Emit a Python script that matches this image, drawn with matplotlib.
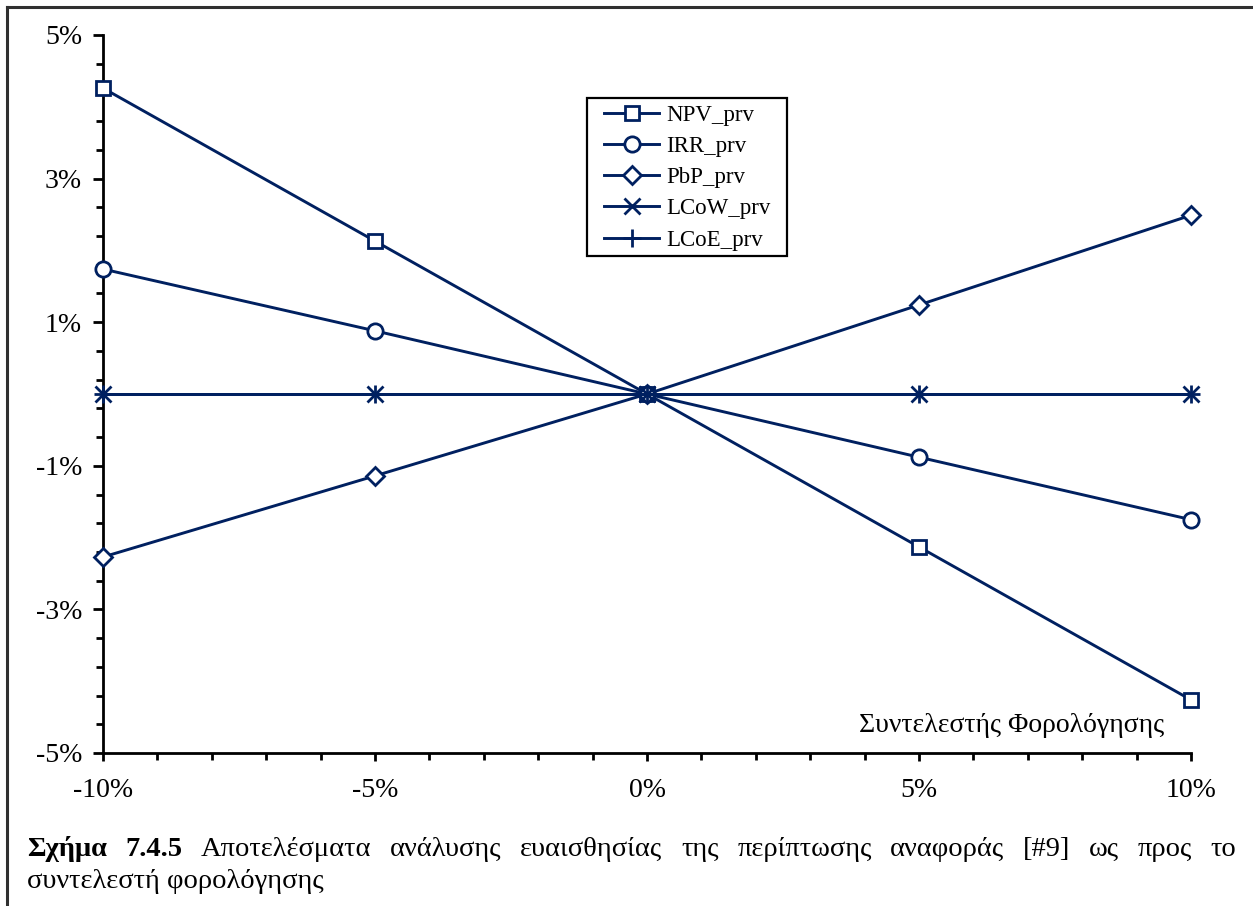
import matplotlib
matplotlib.use("Agg")
import matplotlib.pyplot as plt
from matplotlib.lines import Line2D
from matplotlib.patches import Rectangle
from matplotlib.ticker import FixedLocator, FuncFormatter
import numpy as np

# Sensitivity of the reference case [#9] to the tax rate
tax_change = [-10, -5, 0, 5, 10]          # % change of tax rate
npv_prv = [4.26, 2.13, 0.0, -2.13, -4.26]
irr_prv = [1.74, 0.88, 0.0, -0.88, -1.75]
pbp_prv = [-2.27, -1.14, 0.0, 1.24, 2.49]
lcow_prv = [0.0, 0.0, 0.0, 0.0, 0.0]
lcoe_prv = [0.0, 0.0, 0.0, 0.0, 0.0]

series_names = ["NPV_prv", "IRR_prv", "PbP_prv", "LCoW_prv", "LCoE_prv"]
y_major = [-5, -3, -1, 1, 3, 5]
x_major = [-10, -5, 0, 5, 10]

axis_title = "Συντελεστής Φορολόγησης"
caption_bold = ["Σχήμα", "7.4.5"]
caption_line1 = ["Αποτελέσματα", "ανάλυσης", "ευαισθησίας", "της", "περίπτωσης",
                 "αναφοράς", "[#9]", "ως", "προς", "το"]
caption_line2 = "συντελεστή φορολόγησης"

NAVY = "#002060"
FONT = "Liberation Serif"
plt.rcParams["font.family"] = FONT

W, H = 1253, 906
fig = plt.figure(figsize=(W / 100, H / 100), dpi=100)
fig.patch.set_facecolor("white")


def fx(px):
    return px / W


def fy(py):
    return 1 - py / H


ax = fig.add_axes([fx(103), fy(753), fx(1191) - fx(103), fy(35) - fy(753)])

styles = [
    dict(marker="s", ms=10, mfc="white"),
    dict(marker="o", ms=11, mfc="white"),
    dict(marker="D", ms=9, mfc="white"),
    dict(marker="x", ms=11, mfc=NAVY),
    dict(marker="+", ms=13, mfc=NAVY),
]
data = [npv_prv, irr_prv, pbp_prv, lcow_prv, lcoe_prv]
for vals, name, st in zip(data, series_names, styles):
    ax.plot(tax_change, vals, color=NAVY, lw=2.1, mec=NAVY, mew=2.0,
            label=name, clip_on=False, zorder=3, **st)

ax.set_xlim(-10, 10)
ax.set_ylim(-5, 5)
for s in ["top", "right"]:
    ax.spines[s].set_visible(False)
for s in ["left", "bottom"]:
    ax.spines[s].set_linewidth(2.0)
    ax.spines[s].set_color("black")

ax.xaxis.set_major_locator(FixedLocator(x_major))
ax.xaxis.set_minor_locator(FixedLocator(np.arange(-10, 10.01, 1)))
ax.yaxis.set_major_locator(FixedLocator(y_major))
ax.yaxis.set_minor_locator(FixedLocator(np.arange(-5, 5.01, 0.4)))
pct = FuncFormatter(lambda v, p: f"{v:.0f}%")
ax.xaxis.set_major_formatter(pct)
ax.yaxis.set_major_formatter(pct)

ax.tick_params(axis="x", which="major", direction="out", length=6, width=2,
               labelsize=20, pad=12, colors="black")
ax.tick_params(axis="x", which="minor", direction="out", length=5, width=2)
ax.tick_params(axis="y", which="major", direction="out", length=7, width=2,
               labelsize=20, pad=8, colors="black")
ax.tick_params(axis="y", which="minor", direction="out", length=5, width=2)

fig.text(fx(1012), fy(725), axis_title, fontsize=20, ha="center", va="center")

# Legend box drawn as a plain rectangle, entries placed inside it
fig.add_artist(Rectangle((fx(587), fy(256)), fx(787) - fx(587), fy(98) - fy(256),
                         transform=fig.transFigure, facecolor="white",
                         edgecolor="black", lw=1.6, zorder=4))
leg = fig.legend(loc="upper left", bbox_to_anchor=(fx(604), fy(105)),
                 borderaxespad=0, fontsize=16.5, frameon=False,
                 handlelength=2.4, handletextpad=0.3, labelspacing=0.44,
                 borderpad=0, numpoints=1)
leg.set_zorder(5)

# Page frame lines
fig.add_artist(Line2D([fx(7), 1], [fy(7), fy(7)], color="#303030", lw=2.2))
fig.add_artist(Line2D([fx(7), fx(7)], [fy(7), 0], color="#303030", lw=2.2))

# Justified caption, first line
fig.canvas.draw()
renderer = fig.canvas.get_renderer()
left_px, right_px = 27, 1236
line1_y = fy(849)
words = [(w, "bold") for w in caption_bold] + [(w, "normal") for w in caption_line1]
texts = []
widths = []
for w, weight in words:
    t = fig.text(0, line1_y, w, fontsize=20.5, fontweight=weight,
                 ha="left", va="center")
    texts.append(t)
    widths.append(t.get_window_extent(renderer).width)
gap = (right_px - left_px - sum(widths)) / (len(words) - 1)
x = left_px
for t, wd in zip(texts, widths):
    t.set_x(fx(x))
    x += wd + gap

fig.text(fx(left_px), fy(882), caption_line2, fontsize=20.5,
         ha="left", va="center")

fig.savefig("out.png", dpi=100)
